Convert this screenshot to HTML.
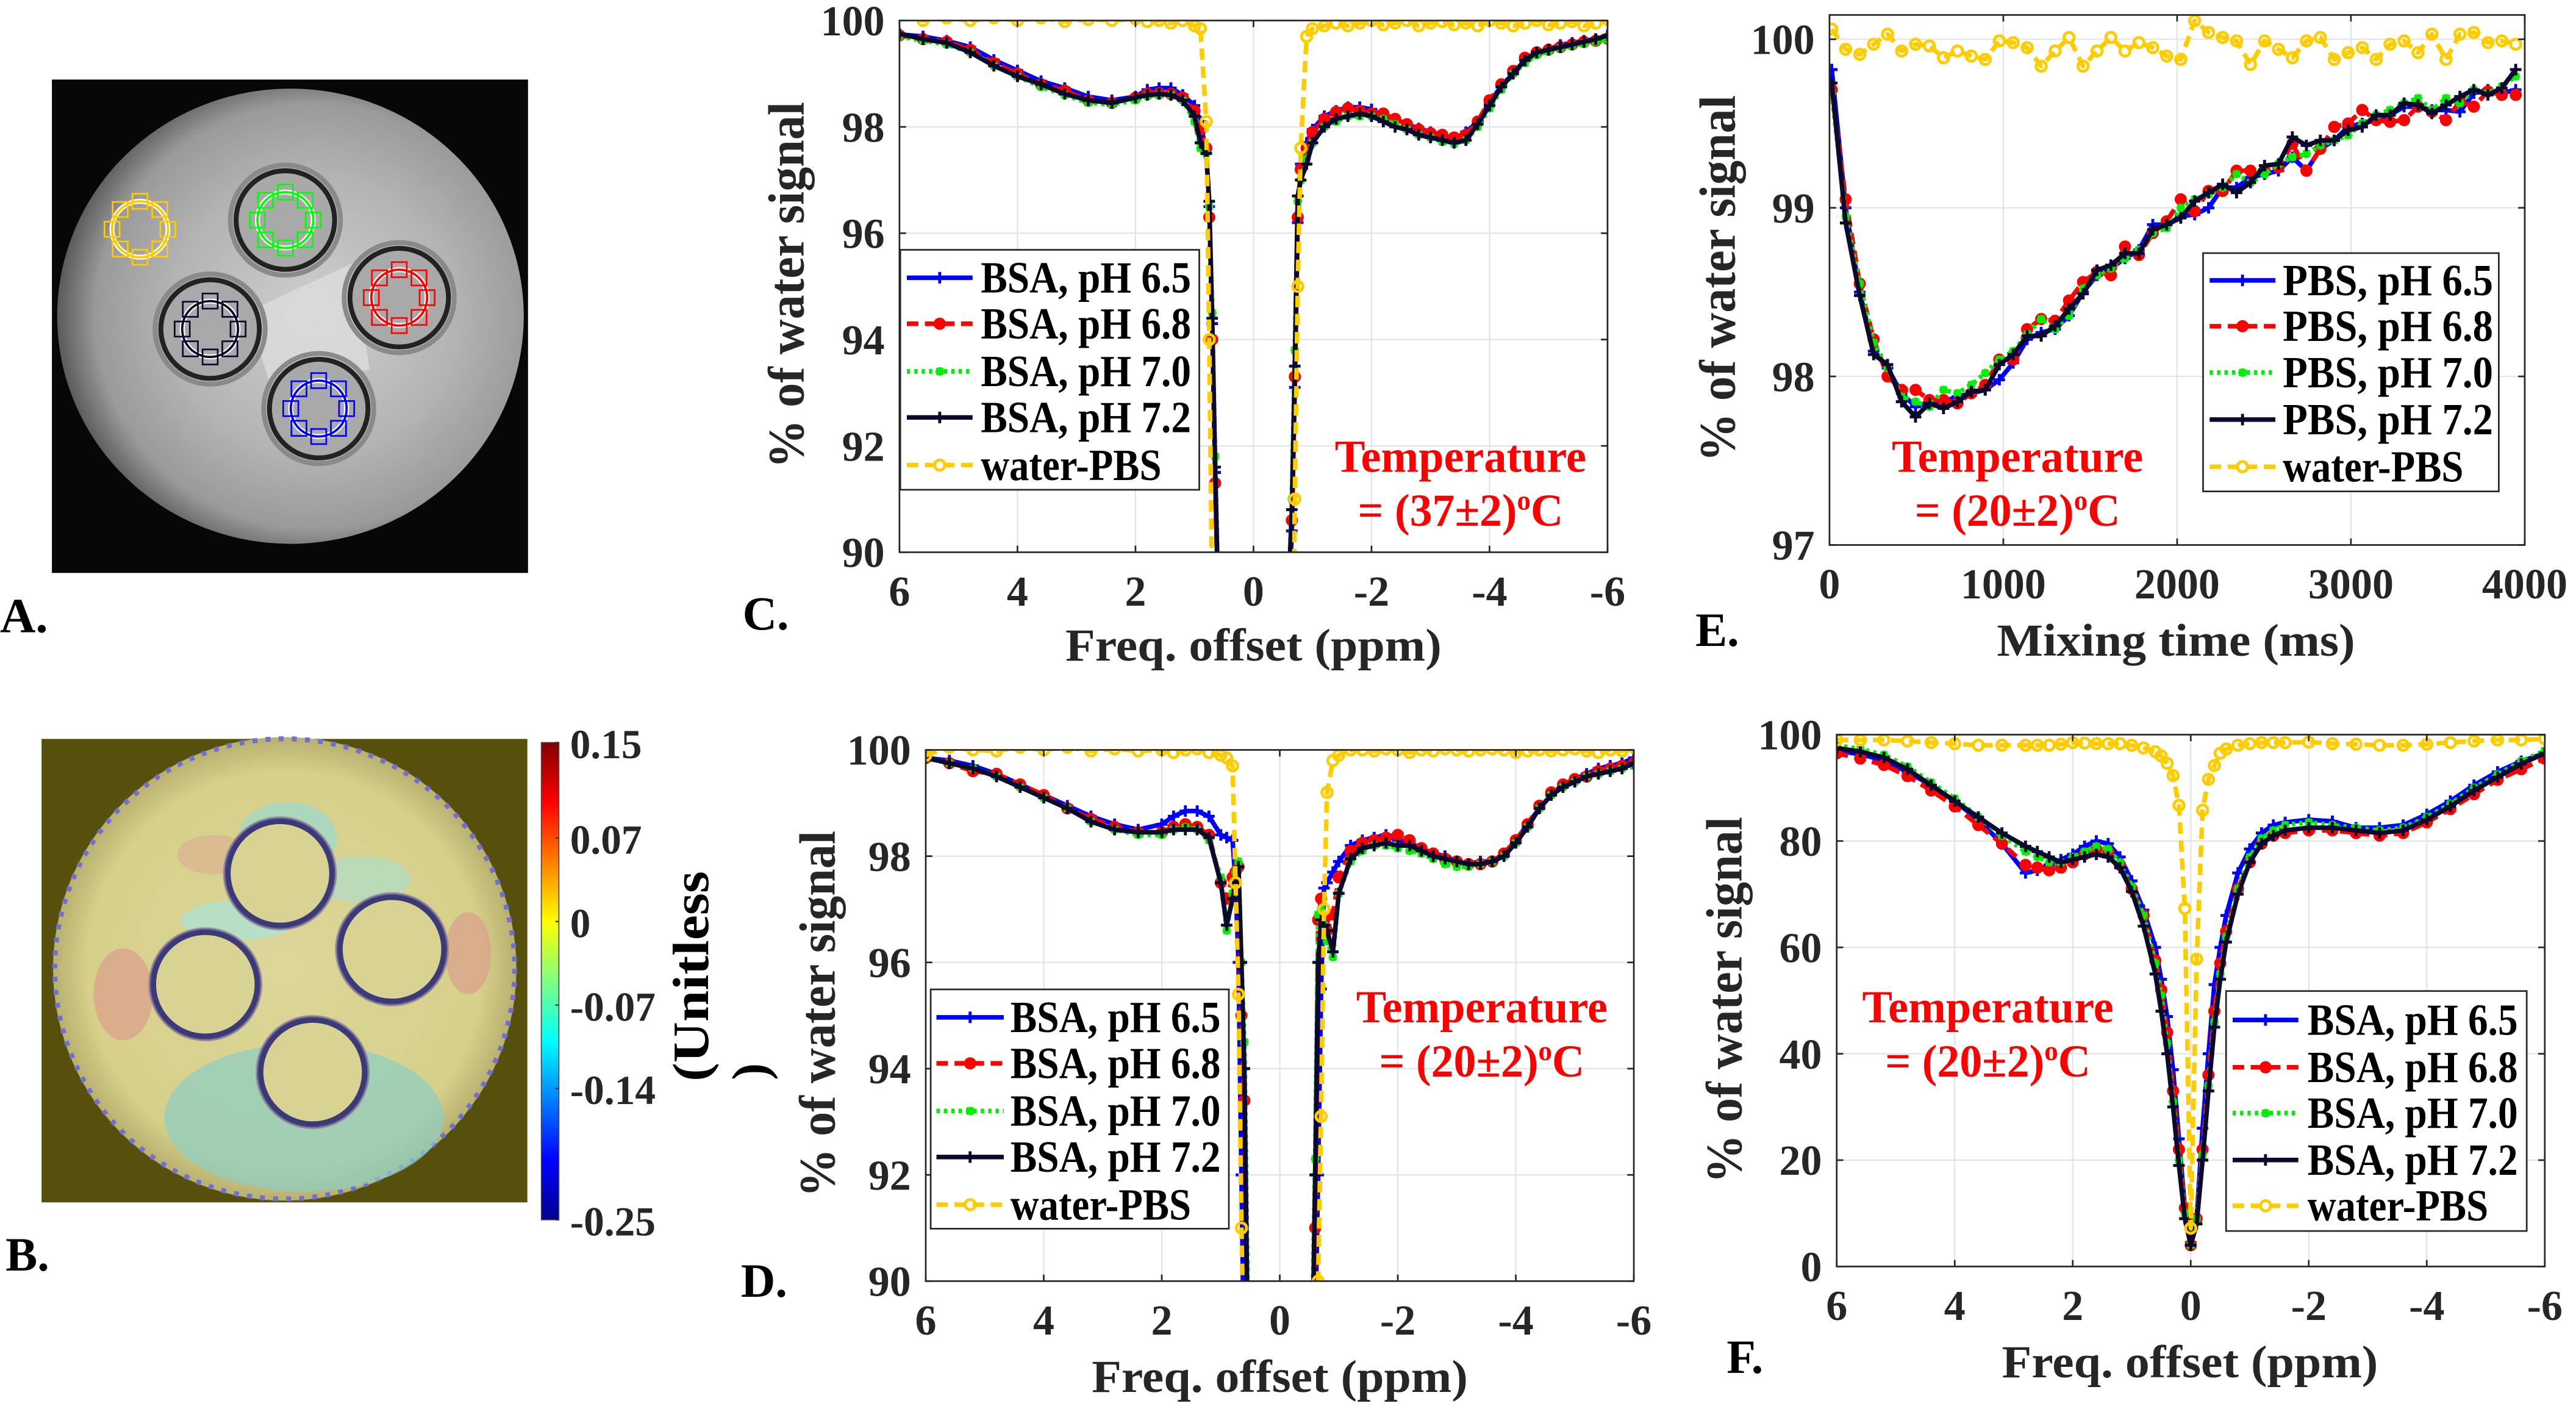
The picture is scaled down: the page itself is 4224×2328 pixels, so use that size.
<!DOCTYPE html>
<html><head><meta charset="utf-8"><style>
html,body{margin:0;padding:0;background:#fff;width:4224px;height:2328px;overflow:hidden;position:relative;}
svg{display:block;position:absolute;left:0;top:0;}
text{font-family:"Liberation Serif","DejaVu Serif",serif;font-weight:bold;}
</style></head><body>
<svg id="fig" xmlns="http://www.w3.org/2000/svg" width="4224" height="2328" viewBox="0 0 1568 864" preserveAspectRatio="none" overflow="hidden">
<defs>
<radialGradient id="discA" cx="0.55" cy="0.5" r="0.55">
<stop offset="0" stop-color="#cfcfcf"/><stop offset="0.55" stop-color="#b4b4b4"/><stop offset="0.85" stop-color="#9a9a9a"/><stop offset="1" stop-color="#5a5a5a"/></radialGradient>
<radialGradient id="discB" cx="0.5" cy="0.5" r="0.5">
<stop offset="0" stop-color="#dcd69a"/><stop offset="0.85" stop-color="#d6d08a"/><stop offset="1" stop-color="#b8b070"/></radialGradient>
<linearGradient id="jet" x1="0" y1="1" x2="0" y2="0">
<stop offset="0" stop-color="#00008f"/><stop offset="0.125" stop-color="#0000ff"/><stop offset="0.375" stop-color="#00ffff"/><stop offset="0.625" stop-color="#ffff00"/><stop offset="0.875" stop-color="#ff0000"/><stop offset="1" stop-color="#800000"/></linearGradient>
</defs>
</svg>
<script>
// ---------- Panel C data (37 C) ----------
const cOff=[6,5.6,5.2,4.8,4.4,4,3.6,3.2,2.8,2.4,2,1.8,1.6,1.4,1.2,1,0.9,0.8,0.75,0.7,0.65,0.6,0.5,0.3,0,-0.3,-0.5,-0.6,-0.65,-0.7,-0.75,-0.8,-0.9,-1,-1.2,-1.4,-1.6,-1.8,-2,-2.2,-2.4,-2.6,-2.8,-3,-3.2,-3.4,-3.6,-3.8,-4,-4.2,-4.4,-4.6,-4.8,-5,-5.2,-5.4,-5.6,-5.8,-6];
const cBlue=[99.74,99.7,99.62,99.5,99.26,99.06,98.86,98.73,98.57,98.5,98.57,98.7,98.73,98.73,98.6,98.4,98.1,97.5,96.5,94.3,91.5,89.1,85,75,50,75,85,89.2,90.4,93.1,96.2,97.3,97.7,97.95,98.2,98.3,98.37,98.37,98.33,98.2,98.15,98.05,97.97,97.9,97.85,97.77,97.9,98.1,98.45,98.77,99.0,99.26,99.38,99.46,99.54,99.58,99.62,99.65,99.68];
const cRed=[99.72,99.65,99.6,99.45,99.2,99.0,98.8,98.68,98.5,98.45,98.55,98.62,98.63,98.62,98.55,98.3,97.95,97.6,96.3,94.0,91.3,89.0,85,75,50,75,85,89.3,90.6,93.3,96.3,97.2,97.6,97.9,98.15,98.28,98.35,98.3,98.25,98.25,98.15,98.05,97.95,97.88,97.85,97.8,97.85,98.1,98.5,98.8,99.05,99.3,99.4,99.45,99.5,99.55,99.6,99.62,99.66];
const cGreen=[99.7,99.62,99.55,99.4,99.15,98.95,98.75,98.6,98.45,98.42,98.5,98.58,98.6,98.6,98.5,98.1,97.6,97.5,96.5,94.5,91.8,89.3,85,75,50,75,85,89.5,91,93.8,96.6,97.0,97.4,97.7,98.0,98.1,98.2,98.2,98.2,98.15,98.05,97.95,97.85,97.8,97.72,97.68,97.75,98.0,98.35,98.7,99.0,99.2,99.35,99.42,99.48,99.52,99.56,99.6,99.64];
const cBlack=[99.75,99.65,99.58,99.4,99.15,98.95,98.8,98.62,98.5,98.45,98.55,98.6,98.62,98.6,98.5,98.2,97.7,97.5,96.6,94.4,91.6,89.2,85,75,50,75,85,89.4,90.8,93.5,96.7,97.0,97.3,97.7,98.0,98.15,98.2,98.25,98.2,98.1,98.0,97.95,97.85,97.8,97.75,97.7,97.75,98.05,98.4,98.75,99.0,99.25,99.4,99.45,99.5,99.55,99.6,99.65,99.72];
const cYellow=[100.1,100.0,100.05,100.0,100.05,100.0,100.05,99.98,100.02,100.0,100.03,99.98,100.0,99.95,100.0,99.9,99.85,98.1,94,89,85,80,75,60,10,60,75,80,85,91,95,97.6,99.7,99.85,99.9,99.95,99.9,99.95,100.0,99.92,99.95,100.0,99.9,99.95,99.98,99.92,99.95,99.9,100.0,99.95,99.9,99.95,100.0,99.92,99.95,99.98,99.9,99.95,100.02];
// ---------- Panel D data (20 C) ----------
const dOff=[6,5.6,5.2,4.8,4.4,4,3.6,3.2,2.8,2.4,2,1.8,1.6,1.4,1.2,1,0.9,0.8,0.75,0.7,0.65,0.6,0.5,0.3,0,-0.3,-0.5,-0.6,-0.65,-0.7,-0.75,-0.8,-0.9,-1,-1.2,-1.4,-1.6,-1.8,-2,-2.2,-2.4,-2.6,-2.8,-3,-3.2,-3.4,-3.6,-3.8,-4,-4.2,-4.4,-4.6,-4.8,-5,-5.2,-5.4,-5.6,-5.8,-6];
const dBlue=[99.85,99.8,99.7,99.55,99.35,99.15,98.95,98.75,98.6,98.5,98.6,98.75,98.85,98.85,98.75,98.4,98.35,98.3,97.5,96.0,92,88,84,75,50,75,84,89,92,95.5,97.4,97.5,97.7,97.9,98.2,98.3,98.35,98.4,98.3,98.25,98.15,98.05,98.0,97.9,97.85,97.9,97.9,98.05,98.3,98.6,98.9,99.15,99.35,99.45,99.55,99.65,99.7,99.75,99.85];
const dRed=[99.85,99.75,99.6,99.55,99.35,99.15,98.9,98.7,98.55,98.45,98.45,98.55,98.6,98.55,98.4,97.5,97.2,97.6,97.7,97.8,95,93.4,86,75,50,75,86,91,96.8,97.2,96.8,96.6,96.9,97.6,98.1,98.25,98.3,98.35,98.4,98.3,98.15,98.05,97.95,97.9,97.85,97.85,97.9,98.05,98.3,98.6,98.95,99.2,99.35,99.45,99.5,99.6,99.65,99.7,99.75];
const dGreen=[99.85,99.75,99.65,99.5,99.3,99.1,98.9,98.65,98.5,98.4,98.4,98.5,98.55,98.5,98.3,97.6,96.6,97.3,97.7,97.9,96,94.5,86,75,50,75,86,92.3,96.9,97.0,96.7,96.4,96.1,97.3,97.9,98.1,98.2,98.2,98.15,98.1,98.05,97.95,97.85,97.8,97.8,97.85,97.9,98.0,98.25,98.55,98.9,99.15,99.3,99.4,99.5,99.55,99.6,99.65,99.7];
const dBlack=[99.85,99.75,99.65,99.5,99.3,99.1,98.9,98.65,98.5,98.45,98.45,98.5,98.5,98.5,98.35,97.5,96.7,97.2,97.5,97.8,96,94,85,75,50,75,85,92,96,96.8,96.7,96.6,96.2,97.3,97.95,98.15,98.2,98.25,98.2,98.2,98.1,98.0,97.95,97.9,97.85,97.85,97.9,98.0,98.25,98.55,98.9,99.15,99.3,99.4,99.5,99.55,99.6,99.65,99.75];
const dYellow=[99.9,100.05,100.0,99.98,100.05,100.0,100.05,99.98,100.02,99.98,100.0,99.95,100.0,100.02,99.95,99.9,99.85,99.7,97.5,95.4,91,88,80,60,10,60,80,88,90,93.1,97,99.2,99.8,99.9,100.0,100.0,99.98,100.02,100.0,99.95,100.0,99.98,100.02,100.0,99.98,100.0,100.02,100.0,99.95,99.98,100.0,99.98,100.0,100.02,99.98,99.95,100.0,99.98,100.05];
// ---------- Panel E data (mixing time) ----------
const eT=[13,93,174,254,334,415,495,575,656,736,816,896,977,1057,1137,1218,1298,1378,1459,1539,1619,1700,1780,1860,1940,2021,2101,2181,2262,2342,2422,2503,2583,2663,2744,2824,2904,2984,3065,3145,3225,3306,3386,3466,3547,3627,3707,3788,3868,3948];
const eBlue=[99.82,99.0,98.5,98.15,98.05,97.9,97.82,97.85,97.85,97.88,97.9,97.92,97.98,98.08,98.22,98.26,98.28,98.36,98.5,98.6,98.64,98.7,98.75,98.9,98.9,98.95,98.96,99.0,99.12,99.12,99.18,99.2,99.22,99.3,99.22,99.35,99.4,99.48,99.5,99.52,99.55,99.6,99.6,99.58,99.58,99.57,99.68,99.7,99.68,99.7];
const eRed=[99.7,99.05,98.55,98.22,98.0,97.92,97.92,97.86,97.86,97.84,97.9,97.95,98.1,98.1,98.28,98.34,98.33,98.45,98.56,98.62,98.6,98.77,98.72,98.85,98.92,99.05,98.98,99.1,99.1,99.22,99.22,99.22,99.24,99.38,99.22,99.35,99.48,99.5,99.58,99.52,99.51,99.52,99.6,99.57,99.52,99.63,99.6,99.69,99.67,99.67];
const eGreen=[99.68,98.95,98.55,98.2,98.05,97.88,97.85,97.82,97.92,97.9,97.95,98.02,98.1,98.15,98.25,98.34,98.28,98.36,98.52,98.6,98.64,98.7,98.75,98.85,98.88,99.0,99.05,99.08,99.12,99.2,99.15,99.2,99.26,99.3,99.32,99.37,99.4,99.43,99.5,99.55,99.58,99.62,99.65,99.58,99.65,99.62,99.7,99.68,99.72,99.78];
const eBlack=[99.74,98.91,98.48,98.13,98.07,97.85,97.76,97.84,97.81,97.85,97.91,97.92,98.07,98.13,98.24,98.24,98.3,98.4,98.49,98.63,98.66,98.73,98.73,98.87,98.9,98.94,99.04,99.09,99.14,99.09,99.15,99.25,99.26,99.42,99.37,99.4,99.4,99.46,99.48,99.55,99.55,99.62,99.61,99.56,99.61,99.66,99.7,99.67,99.71,99.82];
const eYellow=[100.06,99.94,99.91,99.97,100.03,99.93,99.97,99.96,99.89,99.93,99.9,99.88,99.99,99.98,99.95,99.84,99.93,100.01,99.84,99.93,100.01,99.93,99.98,99.95,99.9,99.88,100.11,100.04,100.01,99.99,99.85,99.99,99.94,99.89,99.99,100.01,99.88,99.92,99.95,99.88,99.97,99.99,99.92,100.03,99.88,100.03,100.04,99.98,99.99,99.97];
// ---------- Panel F data (wide range) ----------
const fOff=[6,5.6,5.2,4.8,4.4,4,3.6,3.2,2.8,2.6,2.4,2.2,2,1.8,1.6,1.4,1.2,1,0.8,0.6,0.5,0.4,0.3,0.2,0.1,0,-0.1,-0.2,-0.3,-0.4,-0.5,-0.6,-0.8,-1,-1.2,-1.4,-1.6,-2,-2.4,-2.8,-3.2,-3.6,-4,-4.4,-4.8,-5.2,-5.6,-6];
const fBlue=[97,96.3,95.2,93,90.5,87.5,84,79.5,74,74.5,75.5,76.5,77.5,79,80,79.5,77,72.5,67,60,54,47,37,24,11,4.5,9,26,40,53,60,66,74,78.5,81.5,83,83.5,84,83.7,82.5,82.5,83,85,87.5,90.5,93,95,96.5];
const fRed=[96.5,95.5,94.3,92.2,89.5,86.5,83,79.5,75.5,75,74.5,75,76,77.5,78.5,78,75.5,71,66,57.5,52,44,33,22,11,4,9,22,36,48,57,63,71,76,79.5,81,81.5,82,82,81.5,81,81.5,83.5,86,88.8,91.5,93.5,95.5];
const fGreen=[98,97.3,96.2,94,91,88,84.5,81,78,77,76,76,77,78,79,78.5,76,71.5,66,57,51,42,31,20,10,4,9,21,34,46,55,62,71,77,80.5,82,83,83.5,83,82.5,82,82.5,84.5,87,90,92.5,95,97];
const fBlack=[97.5,96.8,95.7,93.5,90.5,87.5,84.5,81.5,79,78,77,76,76.5,77,77.5,77,75,70.5,64,55,48,40,30,19,9,4,8,20,33,45,54,61,70,76,79.5,81,82,82.5,82.5,82,81.5,82,84,86.5,89.5,92,94.5,96.5];
const fYellow=[99,99,99,98.8,98.5,98.3,98,98,98,98,98,98.2,98.5,98.4,98.3,98.3,98.3,98,97.5,96.8,96,94.6,92.3,86.7,67.3,7.2,57.8,85.8,91.6,94.2,96.5,97.3,98,98.3,98.5,98.5,98.5,98.6,98.3,98.2,98,98,98.2,98.5,98.8,99,99,99.2];
// ---------- tick labels ----------
const ppmTicks=[6,4,2,0,-2,-4,-6];
const cdYTicks=[90,92,94,96,98,100];
const eXTicks=[0,1000,2000,3000,4000];
const eYTicks=[97,98,99,100];
const fYTicks=[0,20,40,60,80,100];
const cbTickLabels=["0.15","0.07","0","-0.07","-0.14","-0.25"];
const cbTickVals=[0.15,0.07,0,-0.07,-0.14,-0.25];
const bsaNames=["BSA, pH 6.5","BSA, pH 6.8","BSA, pH 7.0","BSA, pH 7.2","water-PBS"];
const pbsNames=["PBS, pH 6.5","PBS, pH 6.8","PBS, pH 7.0","PBS, pH 7.2","water-PBS"];

const NS="http://www.w3.org/2000/svg";
const svg=document.getElementById('fig');
function mk(tag,attrs,parent,name){
  const e=document.createElementNS(NS,tag);
  for(const k in attrs){e.setAttribute(k,attrs[k]);}
  
  
  (parent||svg).appendChild(e);
  return e;
}
function txt(s,attrs,parent,name){const t=mk('text',attrs,parent,name);t.textContent=s;return t;}

const STY=[
 {c:'#0000ff',dash:'',m:'plus'},
 {c:'#ff0000',dash:'7,4',m:'dot'},
 {c:'#00ee00',dash:'2,2.5',m:'star'},
 {c:'#0a0a2e',dash:'',m:'plus'},
 {c:'#ffcc00',dash:'7,4',m:'ring'}];
const SNAMES=['ph65','ph68','ph70','ph72','water-pbs'];

function marker(g,x,y,st,name){
  if(st.m==='plus'){mk('path',{d:`M${x-3.5},${y}h7M${x},${y-3.5}v7`,stroke:st.c,'stroke-width':1.8},g,name);}
  else if(st.m==='dot'){mk('circle',{cx:x,cy:y,r:3.3,fill:st.c,stroke:st.c,'stroke-width':0.8},g,name);}
  else if(st.m==='star'){mk('path',{d:`M${x-2.6},${y}h5.2M${x},${y-2.6}v5.2M${x-2},${y-2}l4,4M${x-2},${y+2}l4,-4`,stroke:st.c,'stroke-width':1.5},g,name);}
  else {mk('circle',{cx:x,cy:y,r:3.1,fill:'none',stroke:st.c,'stroke-width':1.8},g,name);}
}

function panel(P){
  const g=mk('g',{},svg,P.name);
  const xs=v=>P.x0+(v-P.xmin)/(P.xmax-P.xmin)*(P.x1-P.x0);
  const ys=v=>P.y1-(v-P.ymin)/(P.ymax-P.ymin)*(P.y1-P.y0);
  mk('rect',{x:P.x0,y:P.y0,width:P.x1-P.x0,height:P.y1-P.y0,fill:'#fff'},g,'plot-area');
  const grid=mk('g',{stroke:'#e3e3e3','stroke-width':0.8},g,'grid');
  P.xt.forEach(v=>{const x=xs(v);if(x>P.x0+1&&x<P.x1-1)mk('line',{x1:x,x2:x,y1:P.y0,y2:P.y1},grid,'x-gridline');});
  P.yt.forEach(v=>{const y=ys(v);if(y>P.y0+1&&y<P.y1-1)mk('line',{x1:P.x0,x2:P.x1,y1:y,y2:y},grid,'y-gridline');});
  const cid='clip'+P.name;
  const cp=mk('clipPath',{id:cid},svg,'clip');
  mk('rect',{x:P.x0,y:P.y0,width:P.x1-P.x0,height:P.y1-P.y0},cp,'clip-rect');
  const sg=mk('g',{'clip-path':`url(#${cid})`},g,'series-layer');
  P.series.forEach((ys_,i)=>{
    const st=STY[i];const xv=P.xs[i];
    const pts=xv.map((v,k)=>xs(v).toFixed(2)+','+ys(ys_[k]).toFixed(2)).join(' ');
    const sgi=mk('g',{},sg,'series-'+SNAMES[i]);
    mk('polyline',{points:pts,fill:'none',stroke:st.c,'stroke-width':2.8,'stroke-dasharray':st.dash,'stroke-linejoin':'round'},sgi,'line-'+SNAMES[i]);
    xv.forEach((v,k)=>{const y=ys(ys_[k]);if(y>=P.y0-3&&y<=P.y1+3)marker(sgi,xs(v),y,st,'point-'+SNAMES[i]);});
  });
  mk('rect',{x:P.x0,y:P.y0,width:P.x1-P.x0,height:P.y1-P.y0,fill:'none',stroke:'#262626','stroke-width':1},g,'axes-box');
  P.xt.forEach(v=>{const x=xs(v);
    mk('line',{x1:x,x2:x,y1:P.y1,y2:P.y1-4,stroke:'#262626','stroke-width':1},g,'x-tick');
    mk('line',{x1:x,x2:x,y1:P.y0,y2:P.y0+4,stroke:'#262626','stroke-width':1},g,'x-tick');
    txt(String(v),{x:x,y:P.y1+32.5,'text-anchor':'middle','font-size':26,fill:'#262626'},g,'x-tick-label');});
  P.yt.forEach(v=>{const y=ys(v);
    mk('line',{x1:P.x0,x2:P.x0+4,y1:y,y2:y,stroke:'#262626','stroke-width':1},g,'y-tick');
    mk('line',{x1:P.x1,x2:P.x1-4,y1:y,y2:y,stroke:'#262626','stroke-width':1},g,'y-tick');
    txt(String(v),{x:P.x0-9,y:y+9,'text-anchor':'end','font-size':26,fill:'#262626'},g,'y-tick-label');});
  txt(P.xlabel,{x:P.xlc,y:P.xlb,'text-anchor':'middle','font-size':28,fill:'#262626',textLength:P.xlw,lengthAdjust:'spacingAndGlyphs'},g,'x-axis-title');
  txt('% of water signal',{x:0,y:0,'text-anchor':'middle','font-size':31,fill:'#262626',textLength:223,lengthAdjust:'spacingAndGlyphs',transform:`translate(${P.ylx+11},${P.yly}) rotate(-90)`},g,'y-axis-title');
  txt(P.letter,{x:P.lx,y:P.ly,'font-size':29,fill:'#000'},g,'panel-label');
  const tg=mk('g',{},g,'temperature-annotation');
  txt('Temperature',{x:P.tx,y:P.ty,'text-anchor':'middle','font-size':28,fill:'#ff0000',textLength:153,lengthAdjust:'spacingAndGlyphs'},tg,'temperature-label');
  const t2=txt('',{x:P.tx,y:P.ty+33,'text-anchor':'middle','font-size':28,fill:'#ff0000',textLength:125,lengthAdjust:'spacingAndGlyphs'},tg,'temperature-value');
  t2.appendChild(document.createTextNode(P.temp));
  const sup=document.createElementNS(NS,'tspan');sup.setAttribute('font-size','17');sup.setAttribute('dy','-10');sup.textContent='o';
  
  
  t2.appendChild(sup);
  const c2=document.createElementNS(NS,'tspan');c2.setAttribute('dy','10');c2.textContent='C';
  
  
  t2.appendChild(c2);
  const L=P.leg;const lg=mk('g',{},g,'legend');
  mk('rect',{x:L.x0,y:L.y0,width:L.x1-L.x0,height:L.y1-L.y0,fill:'#fff',stroke:'#262626','stroke-width':1},lg,'legend-box');
  P.names.forEach((nm,i)=>{const st=STY[i];const y=L.ys[i];
    const eg=mk('g',{},lg,'legend-entry');
    mk('line',{x1:L.sx0,x2:L.sx1,y1:y,y2:y,stroke:st.c,'stroke-width':2.8,'stroke-dasharray':st.dash},eg,'legend-line');
    marker(eg,(L.sx0+L.sx1)/2,y,st,'legend-marker');
    const w=(i===4)?110:128;
    txt(nm,{x:L.tx,y:y+9,'font-size':27,fill:'#000',textLength:w,lengthAdjust:'spacingAndGlyphs'},eg,'legend-label');});
}

panel({name:'panel-c',x0:547.5,x1:978.5,y0:12.5,y1:336,xmin:6,xmax:-6,ymin:90,ymax:100,xt:ppmTicks,yt:cdYTicks,
 xs:[cOff,cOff,cOff,cOff,cOff],series:[cBlue,cRed,cGreen,cBlack,cYellow],
 xlabel:'Freq. offset (ppm)',xlc:763,xlb:402,xlw:229,ylx:478,yly:173.5,letter:'C.',lx:452,ly:383,
 tx:889,ty:287,temp:'= (37±2)',names:bsaNames,
 leg:{x0:548,x1:730,y0:152,y1:298,ys:[169,197,226,254,283],sx0:552,sx1:592,tx:597}});
panel({name:'panel-d',x0:563.5,x1:994.5,y0:456.3,y1:779.5,xmin:6,xmax:-6,ymin:90,ymax:100,xt:ppmTicks,yt:cdYTicks,
 xs:[dOff,dOff,dOff,dOff,dOff],series:[dBlue,dRed,dGreen,dBlack,dYellow],
 xlabel:'Freq. offset (ppm)',xlc:779,xlb:847,xlw:229,ylx:497,yly:617,letter:'D.',lx:451,ly:789,
 tx:902,ty:622,temp:'= (20±2)',names:bsaNames,
 leg:{x0:566.5,x1:748,y0:602,y1:747.6,ys:[619,647,676,704,733],sx0:570,sx1:611,tx:615}});
panel({name:'panel-e',x0:1113.6,x1:1536.8,y0:9.1,y1:331.6,xmin:0,xmax:4000,ymin:97,ymax:100.144,xt:eXTicks,yt:eYTicks,
 xs:[eT,eT,eT,eT,eT],series:[eBlue,eRed,eGreen,eBlack,eYellow],
 xlabel:'Mixing time (ms)',xlc:1324.5,xlb:399,xlw:218,ylx:1045,yly:169.5,letter:'E.',lx:1032,ly:393,
 tx:1228,ty:287,temp:'= (20±2)',names:pbsNames,
 leg:{x0:1341,x1:1521,y0:154,y1:299,ys:[170.6,198.5,226.7,255.3,284],sx0:1345,sx1:1385,tx:1389.5}});
panel({name:'panel-f',x0:1118,x1:1549,y0:447,y1:770.6,xmin:6,xmax:-6,ymin:0,ymax:100,xt:ppmTicks,yt:fYTicks,
 xs:[fOff,fOff,fOff,fOff,fOff],series:[fBlue,fRed,fGreen,fBlack,fYellow],
 xlabel:'Freq. offset (ppm)',xlc:1333,xlb:838,xlw:229,ylx:1049,yly:608.5,letter:'F.',lx:1051,ly:835.5,
 tx:1210,ty:622,temp:'= (20±2)',names:bsaNames,
 leg:{x0:1355,x1:1538,y0:603,y1:749,ys:[620.6,649.4,677.3,705.8,733.7],sx0:1359,sx1:1399,tx:1404.6}});

// ---------- Panel A: phantom image ----------
(function(){
  const g=mk('g',{},svg,'panel-a-image');
  mk('rect',{x:31.6,y:48.4,width:289.8,height:300.2,fill:'#070707'},g,'image-background');
  mk('ellipse',{cx:176.8,cy:192.4,rx:142,ry:138.5,fill:'url(#discA)'},g,'phantom-disc');
  mk('path',{d:'M150,190 L215,160 L225,225 L165,235 Z',fill:'#dcdcdc',opacity:0.8},g,'bright-region');
  const tubes=[[173.7,133.9,'#00ff00','tube-green'],[243,181.1,'#ff0000','tube-red'],[127.9,200.2,'#0a0a2e','tube-black'],[194,248.6,'#0000ff','tube-blue']];
  tubes.forEach(t=>{
    mk('circle',{cx:t[0],cy:t[1],r:33.5,fill:'none',stroke:'#8a8a8a','stroke-width':3},g,t[3]+'-halo');
    mk('circle',{cx:t[0],cy:t[1],r:30,fill:'#a9a9a9',stroke:'#222','stroke-width':3},g,t[3]);
  });
  const rois=[[85.2,139.5,'#ffcc00','roi-yellow'],[173.7,133.9,'#00ff00','roi-green'],[243,181.1,'#ff0000','roi-red'],[127.9,200.2,'#0a0a2e','roi-black'],[194,248.6,'#0000ff','roi-blue']];
  rois.forEach(r=>{
    const rg=mk('g',{},g,r[3]);
    mk('circle',{cx:r[0],cy:r[1],r:17,fill:'none',stroke:'#fff','stroke-width':3},rg,'roi-circle-white');
    mk('circle',{cx:r[0],cy:r[1],r:17,fill:'none',stroke:r[2],'stroke-width':1.4},rg,'roi-circle');
    for(let k=0;k<8;k++){const a=k*Math.PI/4;const x=r[0]+Math.cos(a)*17,y=r[1]+Math.sin(a)*17;
      mk('rect',{x:x-4.6,y:y-4.6,width:9.2,height:9.2,fill:'none',stroke:r[2],'stroke-width':1},rg,'roi-square');}
  });
  txt('A.',{x:0,y:384.6,'font-size':30,fill:'#000','font-family':'Liberation Sans, Arial, sans-serif'},svg,'panel-label-a');
})();

// ---------- Panel B: map + colorbar ----------
(function(){
  const g=mk('g',{},svg,'panel-b-image');
  mk('rect',{x:25.3,y:449.6,width:295.7,height:282,fill:'#56500c'},g,'map-background');
  mk('ellipse',{cx:173.3,cy:589.5,rx:141,ry:141,fill:'url(#discB)'},g,'map-disc');
  mk('ellipse',{cx:173.3,cy:589.5,rx:140,ry:140,fill:'none',stroke:'#7070d0','stroke-width':3,'stroke-dasharray':'3,5'},g,'map-rim');
  mk('ellipse',{cx:185,cy:680,rx:85,ry:45,fill:'#8ccfc4',opacity:0.7},g,'cyan-region');
  mk('ellipse',{cx:175,cy:510,rx:30,ry:22,fill:'#98dcd0',opacity:0.7},g,'cyan-region-top');
  mk('ellipse',{cx:145,cy:560,rx:35,ry:12,fill:'#a8e4dc',opacity:0.7},g,'cyan-region-left');
  mk('ellipse',{cx:220,cy:535,rx:30,ry:14,fill:'#a8e0d4',opacity:0.6},g,'cyan-region-right');
  mk('ellipse',{cx:75,cy:605,rx:18,ry:28,fill:'#dc9e8c',opacity:0.7},g,'pink-region-left');
  mk('ellipse',{cx:285,cy:580,rx:14,ry:25,fill:'#dca08c',opacity:0.7},g,'pink-region-right');
  mk('ellipse',{cx:130,cy:520,rx:22,ry:12,fill:'#dca592',opacity:0.5},g,'pink-region-top');
  const rings=[[170.4,531.4],[238.6,577.6],[125,598.9],[190.3,652.3]];
  rings.forEach(r=>{mk('circle',{cx:r[0],cy:r[1],r:32,fill:'#d8d392',stroke:'#3a3a78','stroke-width':4},g,'tube-ring');
    mk('circle',{cx:r[0],cy:r[1],r:34,fill:'none',stroke:'#8a7a9a','stroke-width':1.5,opacity:0.7},g,'tube-ring-edge');});
  const cb=mk('g',{},svg,'colorbar');
  mk('rect',{x:329.5,y:451.8,width:10.7,height:290.4,fill:'url(#jet)',stroke:'#444','stroke-width':0.6},cb,'colorbar-gradient');
  cbTickVals.forEach((v,i)=>{const y=742.2-(v+0.25)/0.4*290.4;
    mk('line',{x1:338,x2:340.2,y1:y,y2:y,stroke:'#333','stroke-width':0.8},cb,'colorbar-tick');
    txt(cbTickLabels[i],{x:347,y:y+9.5,'font-size':25,fill:'#262626'},cb,'colorbar-tick-label');});
  txt('(Unitless',{x:0,y:0,'text-anchor':'middle','font-size':31,fill:'#000','font-family':'Liberation Sans, Arial, sans-serif',textLength:128,lengthAdjust:'spacingAndGlyphs',transform:'translate(431,594) rotate(-90)'},cb,'colorbar-title');
  txt(')',{x:0,y:0,'text-anchor':'middle','font-size':31,fill:'#000','font-family':'Liberation Sans, Arial, sans-serif',transform:'translate(467,652) rotate(-90)'},cb,'colorbar-title-paren');
  txt('B.',{x:3.4,y:773,'font-size':29,fill:'#000'},svg,'panel-label-b');
})();
</script>
</body></html>
